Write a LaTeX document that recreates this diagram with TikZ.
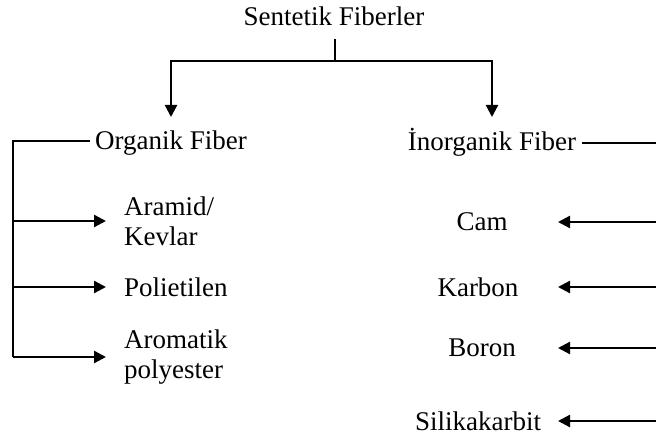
\documentclass[tikz,border=0pt]{standalone}
\usepackage{fontspec}
\setmainfont{Liberation Serif}
\usetikzlibrary{arrows.meta}

\begin{document}
\begin{tikzpicture}[x=1bp, y=-1bp,
    label/.style={inner sep=0pt, font=\fontsize{27bp}{30bp}\selectfont},
    conn/.style={line width=2.3bp, line cap=butt, line join=miter},
    arr/.style={conn, -{Triangle[length=12bp, width=12bp]}}]
  \useasboundingbox (0,0) rectangle (656,436);

  % root and the two branches
  \node[label, anchor=base] (root) at (334,26) {Sentetik Fiberler};
  \node[label, anchor=base] (org) at (171,150) {Organik Fiber};
  \node[label, anchor=base] (inorg) at (492,151) {İnorganik Fiber};

  % organic fibres
  \node[label, anchor=west, align=left] (aramid) at (124,221) {Aramid/\\Kevlar};
  \node[label, anchor=west] (poli) at (124,287) {Polietilen};
  \node[label, anchor=west, align=left] (arom) at (124,357) {Aromatik\\polyester};

  % inorganic fibres
  \node[label] (cam) at (482,222) {Cam};
  \node[label] (karbon) at (478,287) {Karbon};
  \node[label] (boron) at (482,348) {Boron};
  \node[label] (silik) at (478,421) {Silikakarbit};

  % connector bend points and free ends
  \coordinate (stemtop) at (335,39);
  \coordinate (split) at (335,61);
  \coordinate (lbar) at (13,141);
  \coordinate (ltip) at (106,0);
  \coordinate (rbar) at (658,143);
  \coordinate (rtip) at (558,0);
  \coordinate (dtip) at (0,117);

  % root to branches
  \draw[conn] (stemtop) -- (split);
  \draw[arr] (split) -| (org.north |- dtip);
  \draw[arr] (split) -| (inorg.north |- dtip);

  % left bracket
  \draw[conn] ([xshift=-5bp]org.west |- lbar) -- (lbar) -- (lbar |- arom.west);
  \draw[arr] (lbar |- aramid.west) -- (ltip |- aramid.west);
  \draw[arr] (lbar |- poli.west) -- (ltip |- poli.west);
  \draw[arr] (lbar |- arom.west) -- (ltip |- arom.west);

  % right bracket
  \draw[conn] ([xshift=6bp]inorg.east |- rbar) -- (rbar) -- (rbar |- silik);
  \draw[arr] (rbar |- cam) -- (rtip |- cam);
  \draw[arr] (rbar |- karbon) -- (rtip |- karbon);
  \draw[arr] (rbar |- boron) -- (rtip |- boron);
  \draw[arr] (rbar |- silik) -- (rtip |- silik);
\end{tikzpicture}
\end{document}
